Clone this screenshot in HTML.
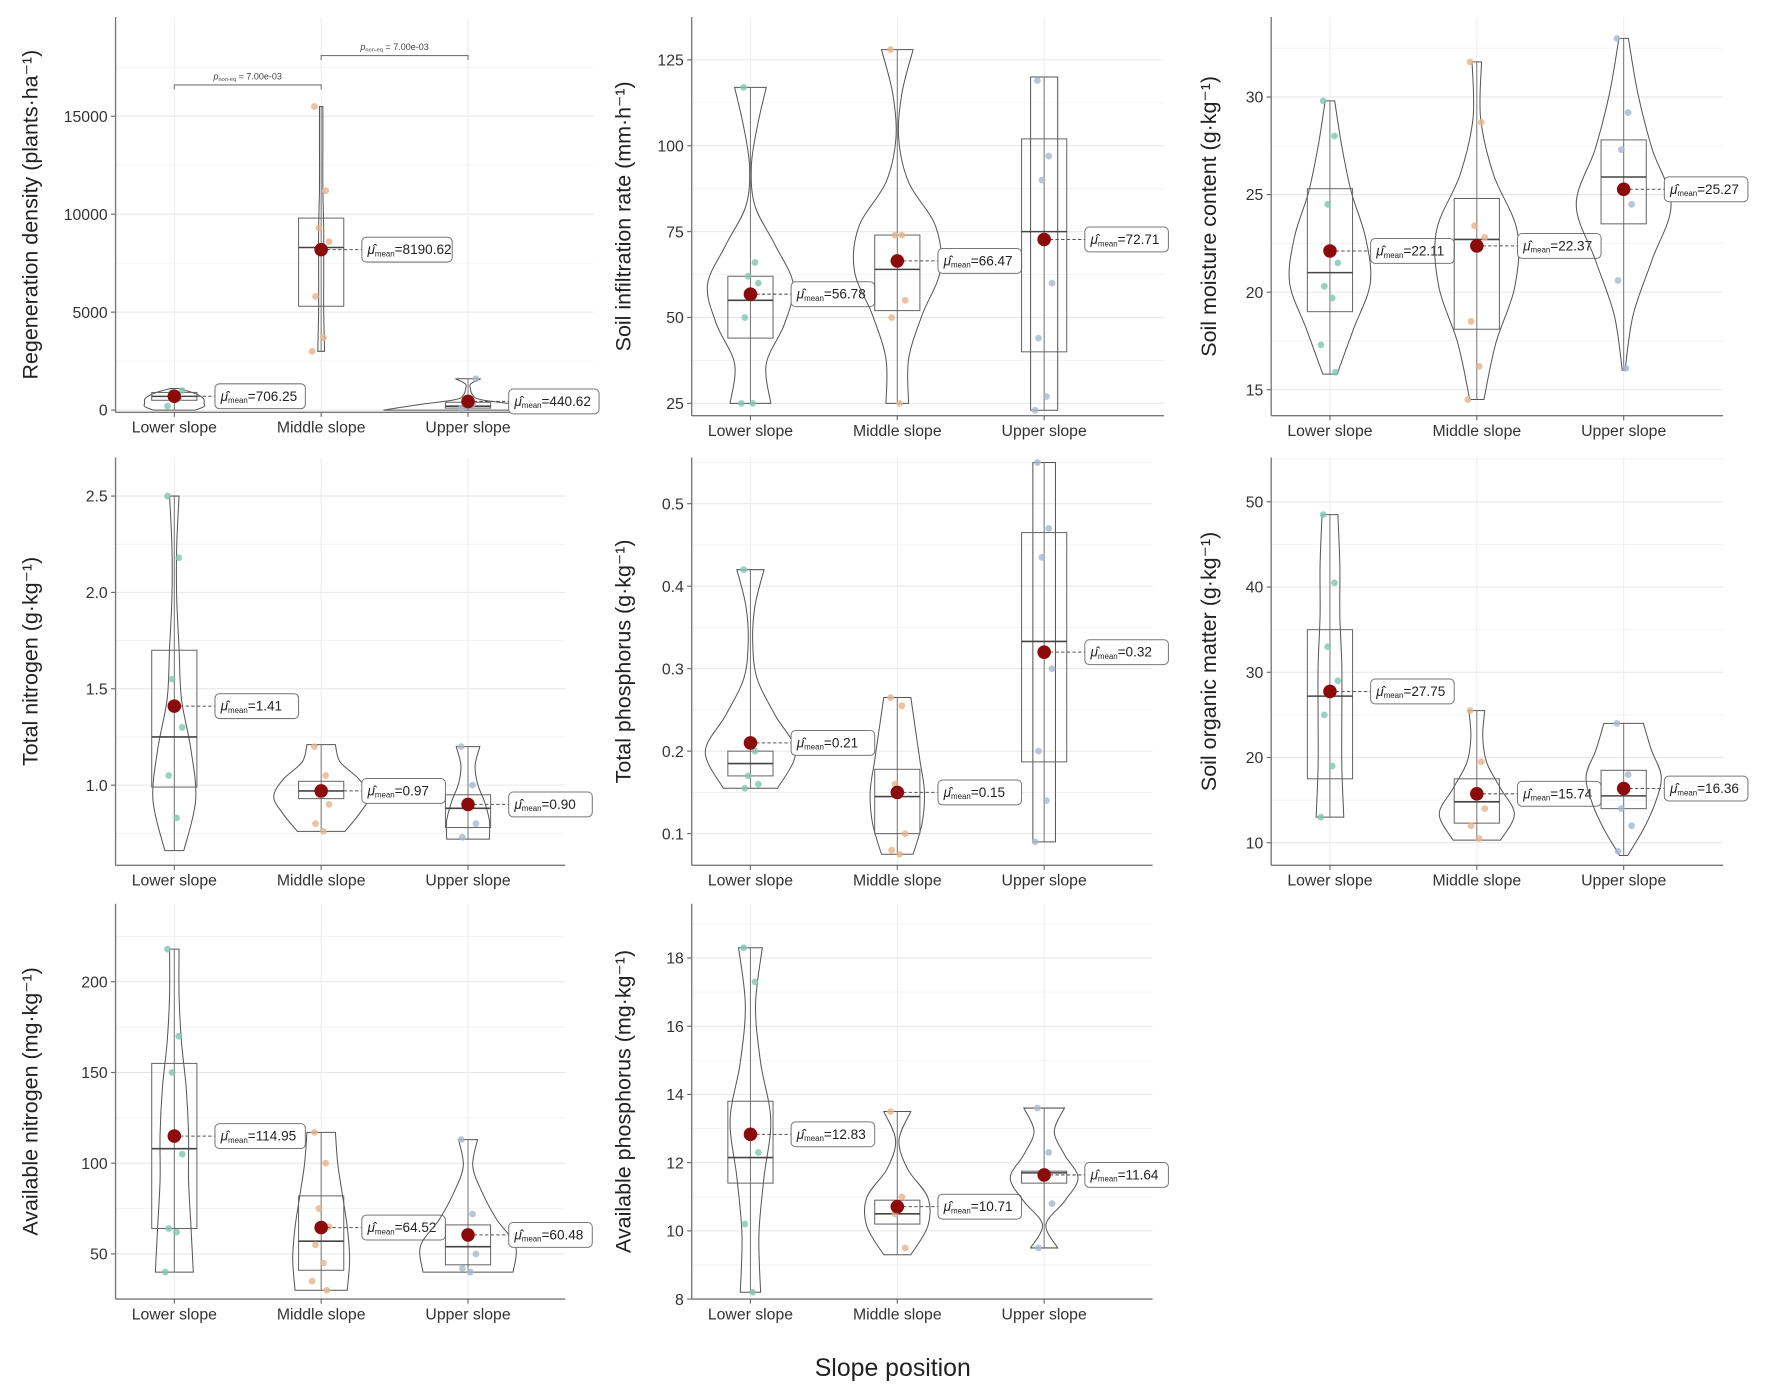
<!DOCTYPE html>
<html><head><meta charset="utf-8"><style>
html,body{margin:0;padding:0;background:#fff;}
svg{display:block;font-family:"Liberation Sans",Arial,sans-serif;}
</style></head><body>
<svg id="fig" width="1772" height="1394" viewBox="0 0 1568 1234" xmlns="http://www.w3.org/2000/svg">
<rect x="0" y="0" width="1568" height="1234" fill="#fff"/>
<text x="790" y="1218" font-size="22" text-anchor="middle" fill="#222">Slope position</text>
</svg>
<script>
const categories = ["Lower slope","Middle slope","Upper slope"];
const titles = ["Regeneration density (plants·ha⁻¹)","Soil infiltration rate (mm·h⁻¹)","Soil moisture content (g·kg⁻¹)","Total nitrogen (g·kg⁻¹)","Total phosphorus (g·kg⁻¹)","Soil organic matter (g·kg⁻¹)","Available nitrogen (mg·kg⁻¹)","Available phosphorus (mg·kg⁻¹)"];
const tickValues = [[0,5000,10000,15000],[25,50,75,100,125],[15,20,25,30],[1.0,1.5,2.0,2.5],[0.1,0.2,0.3,0.4,0.5],[10,20,30,40,50],[50,100,150,200],[8,10,12,14,16,18]];
const tickLabels = [["0","5000","10000","15000"],["25","50","75","100","125"],["15","20","25","30"],["1.0","1.5","2.0","2.5"],["0.1","0.2","0.3","0.4","0.5"],["10","20","30","40","50"],["50","100","150","200"],["8","10","12","14","16","18"]];
const domains = [[-115,20070],[21.4,137.5],[13.67,34.1],[0.584,2.70],[0.0616,0.556],[7.35,55.2],[25.1,243],[8,19.59]];
const meanValues = [[706.25,8190.62,440.62],[56.78,66.47,72.71],[22.11,22.37,25.27],[1.41,0.97,0.90],[0.21,0.15,0.32],[27.75,15.74,16.36],[114.95,64.52,60.48],[12.83,10.71,11.64]];
const meanLabels = [["706.25","8190.62","440.62"],["56.78","66.47","72.71"],["22.11","22.37","25.27"],["1.41","0.97","0.90"],["0.21","0.15","0.32"],["27.75","15.74","16.36"],["114.95","64.52","60.48"],["12.83","10.71","11.64"]];
const q1Values = [[500,5300,100],[44,52,40],[19,18.1,23.5],[0.99,0.93,0.78],[0.17,0.1,0.187],[17.5,12.3,14],[64,41,44],[11.4,10.2,11.4]];
const medianValues = [[700,8300,200],[55,64,75],[21,22.7,25.9],[1.25,0.97,0.88],[0.185,0.145,0.333],[27.2,14.8,15.5],[108,57,54],[12.15,10.5,11.7]];
const q3Values = [[900,9800,400],[62,74,102],[25.3,24.8,27.8],[1.7,1.02,0.95],[0.2,0.178,0.465],[35,17.5,18.5],[155,82,66],[13.8,10.9,11.75]];
const minValues = [[0,3000,0],[25,25,23],[15.8,14.5,16],[0.66,0.76,0.72],[0.155,0.075,0.09],[13,10.3,8.5],[40,30,40],[8.2,9.3,9.5]];
const maxValues = [[1100,15500,1600],[117,128,120],[29.8,31.8,33],[2.5,1.21,1.2],[0.42,0.265,0.55],[48.5,25.5,24],[218,117,113],[18.3,13.5,13.6]];
const densities = [
 [[0.25,0.35,0.35,0.35,0.3,0.2,0.05],[0.04,0.03,0.03,0.03,0.02,0.02,0.02],[1,0.6,0.15,0.05,0.03,0.03,0.15]],
 [[0.45,0.35,0.75,0.95,0.55,0.1,0.02,0.15,0.35],[0.25,0.25,0.55,0.95,0.85,0.25,0.03,0.1,0.35],[0.3,0.3,0.3,0.3,0.3,0.3,0.3,0.3,0.3]],
 [[0.15,0.5,0.85,0.75,0.45,0.25,0.1],[0.15,0.4,0.8,0.85,0.35,0.08,0.1],[0.03,0.2,0.6,1,0.6,0.3,0.1]],
 [[0.2,0.45,0.35,0.15,0.1,0.05,0.05,0.1],[0.5,0.8,1,0.8,0.4,0.3],[0.45,0.45,0.35,0.2,0.15,0.25]],
 [[0.6,1,0.55,0.15,0.05,0.1,0.3],[0.35,0.55,0.6,0.5,0.4,0.3],[0.25,0.25,0.25,0.25,0.25,0.25]],
 [[0.35,0.3,0.3,0.3,0.25,0.25,0.2],[0.6,0.95,0.6,0.25,0.15,0.2],[0.1,0.5,0.8,0.95,0.7,0.5]],
 [[0.4,0.35,0.3,0.3,0.25,0.15,0.1,0.1],[0.55,0.6,0.55,0.45,0.35,0.3],[0.95,1,0.6,0.3,0.1,0.2]],
 [[0.3,0.25,0.4,0.6,0.3,0.15,0.35],[0.4,0.9,0.9,0.3,0.05,0.4],[0.4,0.05,0.6,1,0.6,0.3,0.6]]
];
const pointValues = [
 [[200,600,900,1000],[15500,11200,9300,8600,5800,3700,3000],[100,300,500,1600]],
 [[117,66,62,60,50,25,25],[128,74,74,55,50,25],[119,97,90,60,44,27,23]],
 [[29.8,28,24.5,21.5,20.3,19.7,17.3,15.9],[31.8,28.7,23.4,22.8,18.5,16.2,14.5],[33,29.2,27.3,24.5,20.6,16.1]],
 [[2.5,2.18,1.55,1.3,1.05,0.83],[1.2,1.05,0.95,0.9,0.8,0.76],[1.2,1.0,0.9,0.8,0.73]],
 [[0.42,0.2,0.17,0.16,0.155],[0.265,0.255,0.16,0.1,0.08,0.075],[0.55,0.47,0.435,0.3,0.2,0.14,0.09]],
 [[48.5,40.5,33,29,25,19,13],[25.5,19.5,16,14,12,10.5],[24,18,14,12,9]],
 [[218,170,150,105,64,62,40],[117,100,75,65,55,45,35,30],[113,72,60,50,42,40]],
 [[18.3,17.3,12.9,12.3,10.2,8.2],[13.5,11.0,10.5,9.5],[13.6,12.3,11.7,10.8,9.5]]
];
const bracketValues = [16600,18100];
const bracketLabel = "7.00e-03";

const layout = [
 {ax:102,right:525,top:15,bottom:365,vw:75,tx:33},
 {ax:612,right:1030,top:15,bottom:368,vw:40,tx:558},
 {ax:1125,right:1525,top:15,bottom:368,vw:42,tx:1076},
 {ax:102,right:500,top:405,bottom:766,vw:42,tx:33},
 {ax:612,right:1020,top:405,bottom:766,vw:40,tx:558},
 {ax:1125,right:1525,top:405,bottom:766,vw:35,tx:1076},
 {ax:102,right:500,top:800,bottom:1150,vw:42,tx:33},
 {ax:612,right:1020,top:800,bottom:1150,vw:30,tx:558}
];
const ptColors = ["#7fc6b3","#e6b48a","#a9b7cc"];
const jit = [-6,4,-2,7,-5,2,-8,5,0,-3];
const NS="http://www.w3.org/2000/svg";
const svg=document.getElementById('fig');
function mk(tag,attrs,parent){const e=document.createElementNS(NS,tag);for(const k in attrs)e.setAttribute(k,attrs[k]);(parent||svg).appendChild(e);return e;}
function smoothPath(pts){let d="M"+pts[0][0]+","+pts[0][1];for(let i=0;i<pts.length-1;i++){const p0=pts[i-1]||pts[i],p1=pts[i],p2=pts[i+1],p3=pts[i+2]||p2;const c1=[p1[0]+(p2[0]-p0[0])/6,p1[1]+(p2[1]-p0[1])/6],c2=[p2[0]-(p3[0]-p1[0])/6,p2[1]-(p3[1]-p1[1])/6];d+=" C"+c1[0]+","+c1[1]+" "+c2[0]+","+c2[1]+" "+p2[0]+","+p2[1];}return d;}

layout.forEach((L,p)=>{
 const g=mk('g',{});
 
 
 const [lo,hi]=domains[p];
 const y=v=>L.bottom-(v-lo)/(hi-lo)*(L.bottom-L.top);
 const x=i=>L.ax+52+130*i;
 // minor grid
 const tv=tickValues[p];const step=tv[1]-tv[0];
 for(let k=-2;k<tv.length+2;k++){const v=tv[0]+(k+0.5)*step;const yy=y(v);if(yy>L.top&&yy<L.bottom)mk('line',{x1:L.ax,x2:L.right,y1:yy,y2:yy,stroke:'#f2f2f2','stroke-width':0.8},g);}
 tv.forEach((v,k)=>{const yy=y(v);
  const gl=mk('line',{x1:L.ax,x2:L.right,y1:yy,y2:yy,stroke:'#e6e6e6','stroke-width':0.9},g);
  
  mk('line',{x1:L.ax-4,x2:L.ax,y1:yy,y2:yy,stroke:'#666','stroke-width':1},g);
  const t=mk('text',{x:L.ax-7,y:yy+5,'font-size':14,'text-anchor':'end',fill:'#333'},g);t.textContent=tickLabels[p][k];
  
 });
 categories.forEach((c,i)=>{mk('line',{x1:x(i),x2:x(i),y1:L.top,y2:L.bottom,stroke:'#ececec','stroke-width':0.9},g);});
 // axes
 const ya=mk('line',{x1:L.ax,x2:L.ax,y1:L.top,y2:L.bottom,stroke:'#777','stroke-width':1.2},g);
 
 const xa=mk('line',{x1:L.ax,x2:L.right,y1:L.bottom,y2:L.bottom,stroke:'#777','stroke-width':1.2},g);
 
 categories.forEach((c,i)=>{
  mk('line',{x1:x(i),x2:x(i),y1:L.bottom,y2:L.bottom+4,stroke:'#666'},g);
  const t=mk('text',{x:x(i),y:L.bottom+18,'font-size':14,'text-anchor':'middle',fill:'#333'},g);t.textContent=c;
  
 });
 const cy=(L.top+L.bottom)/2;
 const tt=mk('text',{x:L.tx,y:cy,'font-size':19,'text-anchor':'middle',fill:'#222',transform:'rotate(-90 '+L.tx+' '+cy+')'},g);
 tt.textContent=titles[p];
 
 categories.forEach((c,i)=>{
  const cx=x(i);const mn=minValues[p][i],mx=maxValues[p][i],dn=densities[p][i];
  const right=[],left=[];
  dn.forEach((d,k)=>{const v=mn+(mx-mn)*k/(dn.length-1);right.push([cx+d*L.vw,y(v)]);left.push([cx-d*L.vw,y(v)]);});
  let d=smoothPath(right);const lr=left.slice().reverse();d+=" L"+lr[0][0]+","+lr[0][1]+" "+smoothPath(lr).slice(1).replace(/^[^C]*/,'')+" Z";
  const vio=mk('path',{d:d,fill:'none',stroke:'#555','stroke-width':0.9},g);
  
  mk('line',{x1:cx,x2:cx,y1:y(mn),y2:y(mx),stroke:'#777','stroke-width':0.9},g);
  const bx=mk('rect',{x:cx-20,y:y(q3Values[p][i]),width:40,height:y(q1Values[p][i])-y(q3Values[p][i]),fill:'none',stroke:'#666','stroke-width':0.9},g);
  
  mk('line',{x1:cx-20,x2:cx+20,y1:y(medianValues[p][i]),y2:y(medianValues[p][i]),stroke:'#444','stroke-width':1.4},g);
  pointValues[p][i].forEach((v,k)=>{
   const pt=mk('circle',{cx:cx+jit[k%jit.length],cy:y(v),r:3,fill:ptColors[i],'fill-opacity':0.8},g);
   
  });
  const my=y(meanValues[p][i]);
  mk('line',{x1:cx,x2:cx+36,y1:my,y2:my,stroke:'#555','stroke-width':0.9,'stroke-dasharray':'3,2'},g);
  const m=mk('circle',{cx:cx,cy:my,r:6,fill:'#8b0b0b'},g);
  
  const bw=meanLabels[p][i].length>5?80:74;
  const lb=mk('rect',{x:cx+36,y:my-11,width:bw,height:22,rx:4,fill:'#fff',stroke:'#777','stroke-width':0.9},g);
  
  const lt=mk('text',{x:cx+41,y:my+4,'font-size':12,fill:'#222'},g);
  lt.innerHTML='<tspan font-style="italic">μ̂</tspan><tspan font-size="7" dy="2">mean</tspan><tspan dy="-2">='+meanLabels[p][i]+'</tspan>';
 });
 if(p===0){
  bracketValues.forEach((v,b)=>{const x1=x(b),x2=x(b+1),yy=y(v);
   const br=mk('path',{d:'M'+x1+','+(yy+4)+' L'+x1+','+yy+' L'+x2+','+yy+' L'+x2+','+(yy+4),fill:'none',stroke:'#777','stroke-width':1},g);
   
   const t=mk('text',{x:(x1+x2)/2,y:yy-5,'font-size':8,'text-anchor':'middle',fill:'#444'},g);
   t.innerHTML='<tspan font-style="italic">p</tspan><tspan font-size="5" dy="1.5">non-eq</tspan><tspan dy="-1.5"> = '+bracketLabel+'</tspan>';
  });
 }
});
</script>
</body></html>
